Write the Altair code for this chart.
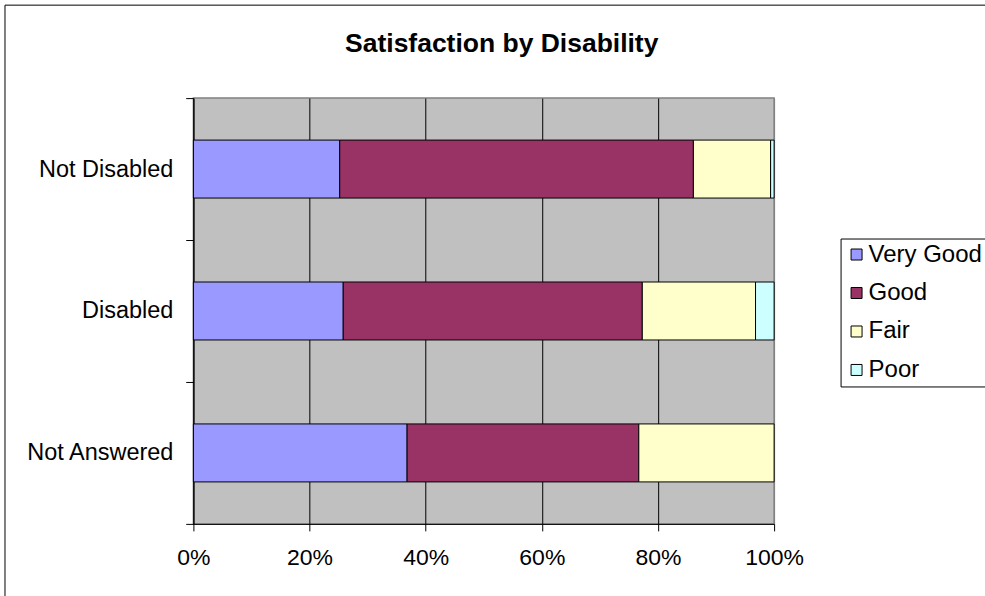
import altair as alt
import pandas as pd

# Respondent groups (top to bottom) and satisfaction ratings (left to right)
groups = ["Not Disabled", "Disabled", "Not Answered"]
ratings = ["Very Good", "Good", "Fair", "Poor"]
colors = ["#9999FF", "#993366", "#FFFFCC", "#CCFFFF"]

# Share of responses per group, in percent
very_good = [25.2, 25.8, 36.8]
good = [60.9, 51.5, 39.9]
fair = [13.3, 19.5, 23.3]
poor = [0.6, 3.2, 0.0]

series = [very_good, good, fair, poor]
rows = []
for i, g in enumerate(groups):
    for j, r in enumerate(ratings):
        rows.append({"group": g, "rating": r, "rank": j, "pct": series[j][i]})
df = pd.DataFrame(rows)

FONT = "Liberation Sans"

# Outer frame of the chart
frame = alt.Chart(pd.DataFrame({"k": [0]})).mark_rect(
    fill="white", fillOpacity=0, stroke="black", strokeWidth=1
).encode(
    x=alt.value(-188.5), x2=alt.value(1200),
    y=alt.value(-93), y2=alt.value(1200),
)

bars = alt.Chart(df).transform_filter("datum.pct > 0").mark_bar(
    size=58, stroke="black", strokeWidth=1
).encode(
    x=alt.X(
        "pct:Q", stack="normalize",
        scale=alt.Scale(domain=[0, 1], nice=False),
        axis=alt.Axis(
            title=None, format="%", values=[0, 0.2, 0.4, 0.6, 0.8, 1],
            grid=True, labelFlush=False,
            gridColor=alt.condition("datum.value == 1", alt.value("#808080"), alt.value("black")),
            gridWidth=1, gridOpacity=1,
            domainColor="black", domainWidth=1,
            tickColor="black", tickSize=7, tickWidth=1,
            labelFont=FONT, labelFontSize=23, labelColor="black", labelPadding=16,
        ),
    ),
    y=alt.Y(
        "group:N", sort=groups,
        scale=alt.Scale(paddingInner=0, paddingOuter=0),
        axis=alt.Axis(
            title=None, grid=False, tickBand="extent",
            domainColor="black", domainWidth=1,
            tickColor="black", tickSize=7.7, tickWidth=1,
            labelFont=FONT, labelFontSize=23.5, labelColor="black", labelPadding=12.8,
        ),
    ),
    color=alt.Color(
        "rating:N",
        scale=alt.Scale(domain=ratings, range=colors),
        legend=alt.Legend(
            title=None, orient="none", legendX=647.5, legendY=140.5,
            labelFont=FONT, labelFontSize=24, labelColor="black", labelOffset=0,
            symbolType="square", symbolSize=121,
            symbolStrokeColor="black", symbolStrokeWidth=1, symbolOpacity=1,
            strokeColor="black", fillColor="white", padding=4, rowPadding=14.5,
        ),
    ),
    order=alt.Order("rank:Q"),
)

chart = alt.layer(frame, bars).properties(
    width=581,
    height=426,
    background="white",
    autosize=alt.AutoSizeParams(type="none"),
    padding={"left": 193.5, "top": 98, "right": 211, "bottom": 72},
    title=alt.TitleParams(
        "Satisfaction by Disability",
        font=FONT, fontSize=26.5, fontWeight="bold", color="black",
        anchor="middle", frame="group", baseline="alphabetic", offset=-74, dx=18,
    ),
).configure_view(
    fill="#C0C0C0", stroke="#808080", strokeWidth=1.5
)

chart.save("out.html", embed_options={"renderer": "svg", "actions": False})
